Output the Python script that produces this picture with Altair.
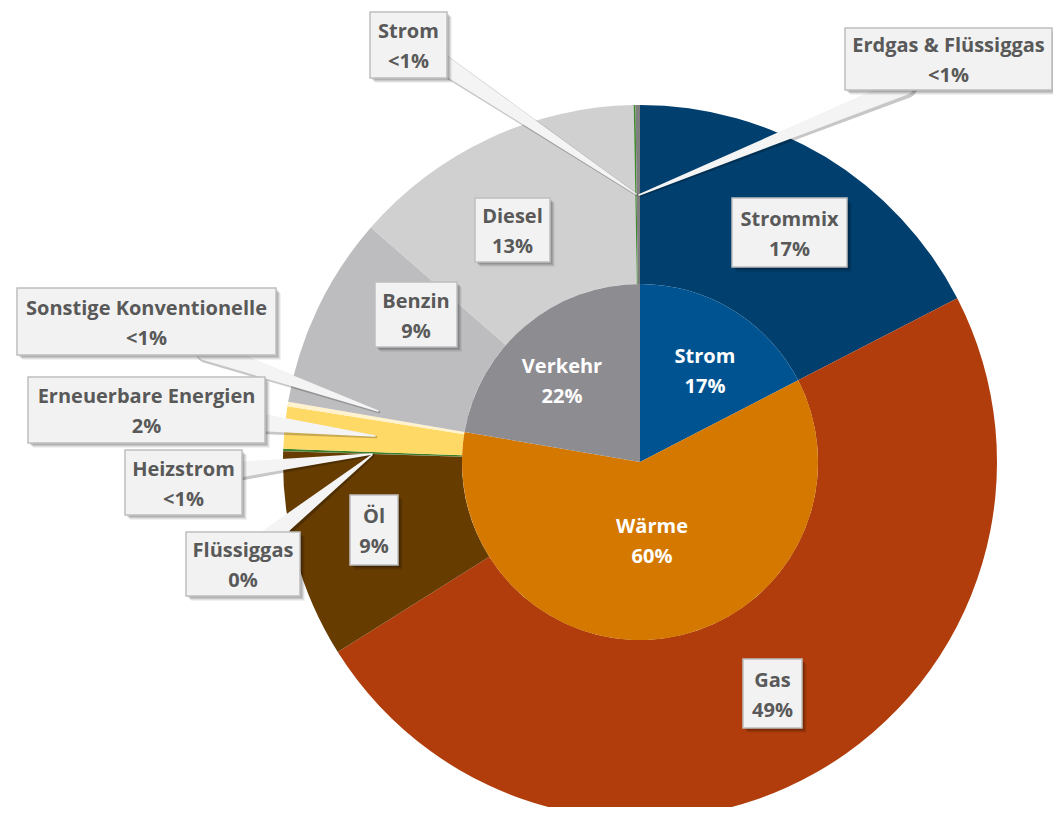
import altair as alt
import pandas as pd

# ---------------- data ----------------
outer_names = ["Strommix", "Gas", "Öl", "Flüssiggas", "Heizstrom", "Erneuerbare Energien",
               "Sonstige Konventionelle", "Benzin", "Diesel", "Strom", "Erdgas & Flüssiggas"]
outer_groups = ["Strom", "Wärme", "Wärme", "Wärme", "Wärme", "Wärme", "Wärme",
                "Verkehr", "Verkehr", "Verkehr", "Verkehr"]
outer_values = [17.4, 48.6, 9.4, 0.02, 0.1, 1.9, 0.2, 8.7, 13.3, 0.08, 0.2]
outer_pct = ["17%", "49%", "9%", "0%", "<1%", "2%", "<1%", "9%", "13%", "<1%", "<1%"]

inner_names = ["Strom", "Wärme", "Verkehr"]
inner_pct = ["17%", "60%", "22%"]

# ---------------- styles ----------------
outer_colors = ["#003F6E", "#B03D0B", "#663C00", "#8B5A2B", "#3A7D2A", "#FFD966",
                "#FFF2CC", "#BDBDBF", "#D0D0D0", "#3F8A2E", "#7F7F7F"]
inner_colors = ["#005391", "#D47800", "#8D8C91"]

FONT = "Open Sans"
FS = 20
LH = 30

# ---------------- layout (page pixels) ----------------
W, H = 1045, 799
OFF = 8
CX, CY = 640, 462
R_OUT, R_IN = 357, 178

# callout boxes for the outer items: (x1, y1, x2, y2)
outer_boxes = [
    (732, 198, 847, 267),
    (743, 659, 802, 728),
    (350, 495, 398, 565),
    (186, 532, 300, 596),
    (125, 450, 242, 515),
    (28, 377, 265, 443),
    (17, 288, 276, 355),
    (375, 282, 457, 347),
    (475, 198, 550, 262),
    (370, 12, 447, 78),
    (845, 28, 1052, 90),
]
# leader pointers: outer index -> (base_x, base_y, tip_x, tip_y, base_width)
leaders = {
    3: (268, 538, 372, 455, 18),
    4: (236, 470, 372, 454, 16),
    5: (258, 422, 375, 436, 18),
    6: (205, 350, 378, 411, 20),
    9: (440, 62, 636, 194, 18),
    10: (905, 86, 639, 195, 18),
}
# inner label centres
inner_text_pos = [(705, 372), (652, 542), (562, 382)]

# ---------------- tables ----------------
outer_df = pd.DataFrame({
    "name": outer_names, "group": outer_groups, "value": outer_values,
    "order": list(range(len(outer_names))),
    "key": [f"o{i}" for i in range(len(outer_names))],
})
inner_df = pd.DataFrame({
    "group": inner_names,
    "value": [sum(v for v, g in zip(outer_values, outer_groups) if g == n) for n in inner_names],
    "order": list(range(len(inner_names))),
    "key": [f"i{i}" for i in range(len(inner_names))],
})

box_rows, shadow_rows, text_rows = [], [], []
for i, (x1, y1, x2, y2) in enumerate(outer_boxes):
    box_rows.append({"x": x1, "x2": x2, "y": y1, "y2": y2})
    for k, op in ((2, 0.10), (3, 0.10), (4, 0.08), (5, 0.05)):
        shadow_rows.append({"x": x1 + k, "x2": x2 + k, "y": y1 + k, "y2": y2 + k, "op": op})
    text_rows.append({"x": (x1 + x2) / 2, "y": (y1 + y2) / 2 + 2 - LH / 2,
                      "txt": outer_names[i] + "\n" + outer_pct[i]})
inner_text_rows = [{"x": p[0], "y": p[1] - LH / 2, "txt": n + "\n" + t}
                   for n, t, p in zip(inner_names, inner_pct, inner_text_pos)]

lead_rows, lead_shadow = [], []
for i, (bx, by, tx, ty, bw) in leaders.items():
    lead_rows += [{"id": i, "k": 0, "x": bx, "y": by, "w": bw},
                  {"id": i, "k": 1, "x": tx, "y": ty, "w": 1.5}]
    lead_shadow += [{"id": i, "k": 0, "x": bx + 2, "y": by + 2, "w": bw + 2},
                    {"id": i, "k": 1, "x": tx + 1, "y": ty + 1, "w": 2.5}]

xs = alt.Scale(domain=[OFF, OFF + W], range=[0, W], nice=False, zero=False)
ys = alt.Scale(domain=[OFF, OFF + H], range=[0, H], nice=False, zero=False)


def X(f):
    return alt.X(f, type="quantitative", scale=xs, axis=None)


def Y(f):
    return alt.Y(f, type="quantitative", scale=ys, axis=None)


# ---------------- layers ----------------
outer_arc = alt.Chart(outer_df).mark_arc(outerRadius=R_OUT, innerRadius=R_IN).encode(
    theta=alt.Theta("value:Q", stack=True),
    order=alt.Order("order:Q"),
    color=alt.Color("key:N", scale=alt.Scale(domain=list(outer_df["key"]), range=outer_colors), legend=None),
    x=alt.value(CX - OFF), y=alt.value(CY - OFF),
)
inner_arc = alt.Chart(inner_df).mark_arc(outerRadius=R_IN, innerRadius=0).encode(
    theta=alt.Theta("value:Q", stack=True),
    order=alt.Order("order:Q"),
    color=alt.Color("key:N", scale=alt.Scale(domain=list(inner_df["key"]), range=inner_colors), legend=None),
    x=alt.value(CX - OFF), y=alt.value(CY - OFF),
)

lead_sh = alt.Chart(pd.DataFrame(lead_shadow)).mark_trail(color="#000000", opacity=0.22).encode(
    x=X("x"), y=Y("y"), size=alt.Size("w:Q", scale=None, legend=None),
    detail="id:N", order="k:Q")
lead = alt.Chart(pd.DataFrame(lead_rows)).mark_trail(color="#F4F4F4").encode(
    x=X("x"), y=Y("y"), size=alt.Size("w:Q", scale=None, legend=None),
    detail="id:N", order="k:Q")

shadows = alt.Chart(pd.DataFrame(shadow_rows)).mark_rect(color="#000000").encode(
    x=X("x"), x2="x2:Q", y=Y("y"), y2="y2:Q",
    opacity=alt.Opacity("op:Q", scale=None, legend=None))
boxes = alt.Chart(pd.DataFrame(box_rows)).mark_rect(
    fill="#F2F2F2", stroke="#BFBFBF", strokeWidth=1.5).encode(
    x=X("x"), x2="x2:Q", y=Y("y"), y2="y2:Q")
texts = alt.Chart(pd.DataFrame(text_rows)).mark_text(
    font=FONT, fontSize=FS, fontWeight="bold", color="#595959",
    lineBreak="\n", lineHeight=LH, align="center", baseline="middle").encode(
    x=X("x"), y=Y("y"), text="txt:N")
inner_texts = alt.Chart(pd.DataFrame(inner_text_rows)).mark_text(
    font=FONT, fontSize=FS, fontWeight="bold", color="#FFFFFF",
    lineBreak="\n", lineHeight=LH, align="center", baseline="middle").encode(
    x=X("x"), y=Y("y"), text="txt:N")

chart = alt.layer(
    outer_arc, inner_arc, lead_sh, lead, shadows, boxes, texts, inner_texts
).resolve_scale(
    theta="independent", color="independent"
).properties(
    width=W, height=H, padding=0, autosize=alt.AutoSizeParams(type="none"),
    background="#FFFFFF",
).configure_view(stroke=None)

chart.save("out.html", embed_options={"renderer": "svg", "actions": False})
